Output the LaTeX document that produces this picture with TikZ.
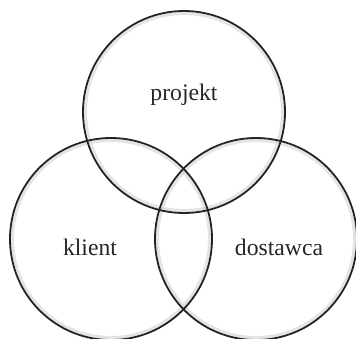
\documentclass[tikz,border=0pt]{standalone}
\usepackage{fontspec}
\setmainfont{Liberation Serif}
\usetikzlibrary{positioning}
\definecolor{ring}{RGB}{35,35,35}
\definecolor{halo}{RGB}{210,210,210}

\tikzset{
  set/.style={circle, draw=ring, line width=1.8pt, minimum size=202pt, inner sep=0pt},
  glow/.style={draw=halo, line width=3pt, opacity=0.6},
  setlabel/.style={font=\fontsize{23.7}{28}\selectfont, text=black!85}
}

\begin{document}
\begin{tikzpicture}[x=1pt, y=1pt]
    \useasboundingbox (0,0) rectangle (356,338);
    % soft inner edge
    \foreach \p in {(184,226), (111,99), (256,99)}
      \draw[glow] \p circle (98.5pt);
    % three sets
    \node[set] (projekt) at (184,226) {};
    \node[set] (klient) at (111,99) {};
    \node[set] (dostawca) at (256,99) {};
    % labels
    \node[setlabel] (lprojekt) at (184,243) {projekt};
    \node[setlabel] (lklient) at (90,91) {klient};
    \node[setlabel] (ldostawca) at (279,91) {dostawca};
\end{tikzpicture}
\end{document}
